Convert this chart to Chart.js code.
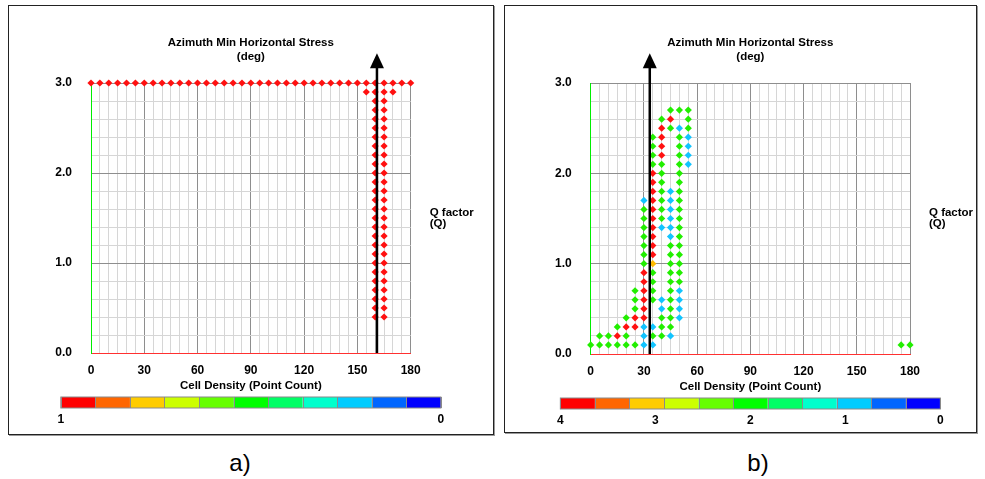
<!DOCTYPE html>
<html>
<head>
<meta charset="utf-8">
<title>Azimuth vs Q factor</title>
<script src="https://cdn.jsdelivr.net/npm/chart.js@4.4.1/dist/chart.umd.min.js"></script>
<style>
body { margin: 0; background: #fff; font-family: "Liberation Sans", Arial, sans-serif; }
.panel { position: absolute; box-sizing: border-box; border: 1px solid #222; box-shadow: 1px 1px 0 #999; background: #fff; }
.panel canvas { display: block; }
.caption { position: absolute; top: 448px; width: 60px; text-align: center; font-size: 24px; line-height: 30px; color: #000; }
</style>
</head>
<body>
<div class="panel" style="left:8px;top:5px;width:486px;height:430px;"><canvas id="chartA" width="484" height="428"></canvas></div>
<div class="panel" style="left:504px;top:5px;width:473px;height:428px;"><canvas id="chartB" width="471" height="426"></canvas></div>
<div class="caption" style="left:210px;">a)</div>
<div class="caption" style="left:728px;">b)</div>
<script>
// axis ticks: labelled values and the minor grid step
const xTickLabels = [0, 30, 60, 90, 120, 150, 180];
const yTickLabels = [0, 1, 2, 3];
const xMinorStep = 5;
const yMinorStep = 0.2;

// cell density colour bar
const densityColors = ['#ff0000', '#ff6600', '#ffcc00', '#ccff00', '#66ff00', '#00ff00',
                       '#00ff66', '#00ffcc', '#00ccff', '#0066ff', '#0000ff'];
const aBarLabels = ['1', '0'];
const bBarLabels = ['4', '3', '2', '1', '0'];

// arrow = azimuth of min horizontal stress (deg)
const aArrowDeg = 161;
const bArrowDeg = 33.3;
const arrowTopQ = 3.33;

// point colours
const redColor = '#ff1010';
const greenColor = '#22ee00';
const blueColor = '#11c4ff';
const orangeColor = '#ffbb00';

// panel a) rows of cells: [Q, [azimuths]]
const aRedRows = [
    [3.0, [0, 5, 10, 15, 20, 25, 30, 35, 40, 45, 50, 55, 60, 65, 70, 75, 80, 85, 90,
           95, 100, 105, 110, 115, 120, 125, 130, 135, 140, 145, 150, 155, 160, 165, 170, 175, 180]],
    [2.9, [155, 160, 165, 170]],
    [2.8, [160, 165]], [2.7, [160, 165]], [2.6, [160, 165]], [2.5, [160, 165]],
    [2.4, [160, 165]], [2.3, [160, 165]], [2.2, [160, 165]], [2.1, [160, 165]],
    [2.0, [160, 165]], [1.9, [160, 165]], [1.8, [160, 165]], [1.7, [160, 165]],
    [1.6, [160, 165]], [1.5, [160, 165]], [1.4, [160, 165]], [1.3, [160, 165]],
    [1.2, [160, 165]], [1.1, [160, 165]], [1.0, [160, 165]], [0.9, [160, 165]],
    [0.8, [160, 165]], [0.7, [160, 165]], [0.6, [160, 165]], [0.5, [160, 165]],
    [0.4, [160, 165]]
];

// panel b) rows of cells, one list per colour
const bRedRows = [
    [2.6, [45]], [2.5, [40]], [2.4, [40]], [2.3, [40]], [2.2, [40]],
    [2.0, [35]], [1.9, [35]], [1.8, [35]], [1.7, [35]], [1.6, [35]], [1.5, [35]],
    [1.4, [35]], [1.3, [35]], [1.2, [35]], [1.1, [35]],
    [0.9, [30]], [0.8, [30]], [0.7, [30]], [0.6, [30]], [0.5, [30]],
    [0.4, [25, 30]], [0.3, [20, 25]], [0.2, [15]]
];
const bGreenRows = [
    [2.7, [45, 50, 55]], [2.6, [40, 55]], [2.5, [45, 55]],
    [2.4, [35, 50]], [2.3, [35, 50]], [2.2, [35, 50]], [2.1, [35, 40, 50]],
    [2.0, [40, 50]], [1.9, [40, 50]], [1.8, [40, 50]], [1.7, [40, 50]],
    [1.6, [30, 40, 50]], [1.5, [30, 40, 50]], [1.4, [30, 50]], [1.3, [30, 50]],
    [1.2, [30, 45, 50]], [1.1, [30, 45, 50]], [1.0, [30, 45, 50]],
    [0.9, [35, 45, 50]], [0.8, [35, 45, 50]], [0.7, [25, 35, 45]], [0.6, [25, 35, 45]],
    [0.5, [25, 45]], [0.4, [20, 40, 45]], [0.3, [15, 40, 45]],
    [0.2, [5, 10, 20, 35, 40]], [0.1, [0, 5, 10, 15, 20, 25, 175, 180]]
];
const bBlueRows = [
    [2.5, [50]], [2.4, [55]], [2.3, [55]], [2.2, [55]], [2.1, [55]],
    [1.8, [45]], [1.7, [30, 45]], [1.6, [45]], [1.5, [45]], [1.4, [40, 45]], [1.3, [45]],
    [0.7, [50]], [0.6, [40, 50]], [0.5, [40, 50]], [0.4, [50]],
    [0.3, [30, 35]], [0.2, [30, 45]], [0.1, [30, 35]]
];
const bOrangeRows = [
    [1.0, [35]]
];

const fontFamily = '"Liberation Sans", Arial, sans-serif';

function rowsToPoints(rows) {
    const pts = [];
    rows.forEach(([q, azimuths]) => azimuths.forEach(az => pts.push({ x: az, y: q })));
    return pts;
}

function makeDataset(rows, color) {
    return {
        data: rowsToPoints(rows),
        pointStyle: 'rectRot',
        pointRadius: 3.6,
        pointBackgroundColor: color,
        pointBorderWidth: 0,
        showLine: false,
        clip: false
    };
}

function minorTicks(max, step) {
    const ticks = [];
    const n = Math.round(max / step);
    for (let i = 0; i <= n; i++) ticks.push({ value: +(i * step).toFixed(3) });
    return ticks;
}

function isLabelled(list, v) {
    return list.some(t => Math.abs(t - v) < 1e-6);
}

// titles, colour bar and stress arrow
const panelDecor = {
    id: 'panelDecor',
    afterDraw(chart, args, opts) {
        const { ctx, chartArea: area, scales } = chart;
        const cx = (area.left + area.right) / 2;
        ctx.save();
        ctx.fillStyle = '#000';
        ctx.font = 'bold 11.5px ' + fontFamily;
        ctx.textBaseline = 'middle';
        ctx.textAlign = 'center';
        ctx.fillText('Azimuth Min Horizontal Stress', cx, area.top - 40);
        ctx.fillText('(deg)', cx, area.top - 26);
        ctx.fillText('Cell Density (Point Count)', cx, area.bottom + 33);
        ctx.textAlign = 'left';
        ctx.fillText('Q factor', area.right + 19, area.top + 129.5);
        ctx.fillText('(Q)', area.right + 19, area.top + 141);

        // colour bar
        const barW = 380, barH = 11;
        const bx = cx - barW / 2, by = area.bottom + 44;
        const cellW = barW / densityColors.length;
        densityColors.forEach((c, i) => {
            ctx.fillStyle = c;
            ctx.fillRect(bx + i * cellW, by, cellW, barH);
        });
        ctx.strokeStyle = '#8a8a8a';
        ctx.lineWidth = 1;
        for (let i = 0; i <= densityColors.length; i++) {
            ctx.beginPath();
            ctx.moveTo(Math.round(bx + i * cellW) + 0.5, by);
            ctx.lineTo(Math.round(bx + i * cellW) + 0.5, by + barH);
            ctx.stroke();
        }
        ctx.strokeRect(bx, by, barW, barH);
        ctx.fillStyle = '#000';
        ctx.textAlign = 'center';
        ctx.font = 'bold 12px ' + fontFamily;
        const labels = opts.barLabels;
        labels.forEach((l, i) => {
            ctx.fillText(l, bx + i * barW / (labels.length - 1), area.bottom + 67);
        });

        // arrow
        const ax = scales.x.getPixelForValue(opts.arrowDeg);
        const tipY = scales.y.getPixelForValue(arrowTopQ);
        ctx.strokeStyle = '#000';
        ctx.lineWidth = 2.5;
        ctx.beginPath();
        ctx.moveTo(ax, area.bottom);
        ctx.lineTo(ax, tipY + 12);
        ctx.stroke();
        ctx.fillStyle = '#000';
        ctx.beginPath();
        ctx.moveTo(ax, tipY);
        ctx.lineTo(ax - 7, tipY + 15);
        ctx.lineTo(ax + 7, tipY + 15);
        ctx.closePath();
        ctx.fill();
        ctx.restore();
    }
};

function makeChart(canvasId, datasets, box) {
    const ctx = document.getElementById(canvasId).getContext('2d');
    return new Chart(ctx, {
        type: 'scatter',
        data: { datasets: datasets },
        plugins: [panelDecor],
        options: {
            responsive: false,
            animation: false,
            devicePixelRatio: 1,
            layout: { padding: { left: 0, top: box.top, right: box.right, bottom: 0 } },
            plugins: {
                legend: { display: false },
                tooltip: { enabled: false },
                panelDecor: { barLabels: box.barLabels, arrowDeg: box.arrowDeg }
            },
            scales: {
                x: {
                    type: 'linear',
                    min: 0,
                    max: 180,
                    afterBuildTicks: s => { s.ticks = minorTicks(180, xMinorStep); },
                    afterFit: s => { s.height = box.xHeight; },
                    ticks: {
                        autoSkip: false,
                        maxRotation: 0,
                        padding: 10,
                        color: '#000',
                        font: { family: fontFamily, size: 12, weight: 'bold' },
                        callback: v => isLabelled(xTickLabels, v) ? String(v) : ''
                    },
                    grid: {
                        drawTicks: false,
                        color: c => (c.tick && isLabelled(xTickLabels, c.tick.value)) ? '#8e8e8e' : '#d6d6d6'
                    },
                    border: { color: '#ff3030', width: 1 }
                },
                y: {
                    type: 'linear',
                    min: 0,
                    max: 3,
                    afterBuildTicks: s => { s.ticks = minorTicks(3, yMinorStep); },
                    afterFit: s => { s.width = box.yWidth; },
                    ticks: {
                        autoSkip: false,
                        padding: 19,
                        color: '#000',
                        font: { family: fontFamily, size: 12, weight: 'bold' },
                        callback: v => isLabelled(yTickLabels, v) ? v.toFixed(1) : ''
                    },
                    grid: {
                        drawTicks: false,
                        color: c => (c.tick && isLabelled(yTickLabels, c.tick.value)) ? '#8e8e8e' : '#d6d6d6'
                    },
                    border: { color: '#00ee00', width: 1 }
                }
            }
        }
    });
}

makeChart('chartA', [makeDataset(aRedRows, redColor)],
    { top: 77, right: 82.3, xHeight: 81, yWidth: 82, barLabels: aBarLabels, arrowDeg: aArrowDeg });

makeChart('chartB', [
        makeDataset(bGreenRows, greenColor),
        makeDataset(bBlueRows, blueColor),
        makeDataset(bRedRows, redColor),
        makeDataset(bOrangeRows, orangeColor)
    ],
    { top: 77, right: 66, xHeight: 78, yWidth: 85.7, barLabels: bBarLabels, arrowDeg: bArrowDeg });
</script>
</body>
</html>
